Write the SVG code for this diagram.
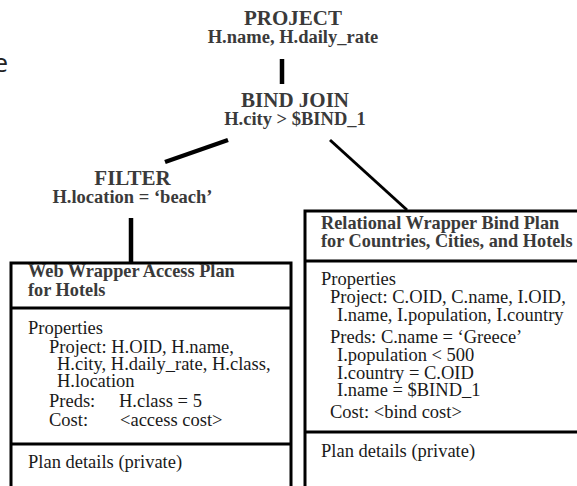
<svg xmlns="http://www.w3.org/2000/svg" width="577" height="486" viewBox="0 0 577 486">
<style>
.op{font-family:"Liberation Serif",serif;font-weight:bold;fill:#3a3a3a;text-anchor:middle}
.t1{font-size:21px}
.t2{font-size:18.5px}
.hd{font-family:"Liberation Serif",serif;font-weight:bold;font-size:18.3px;fill:#3a3a3a}
.tx{font-family:"Liberation Serif",serif;font-size:18.5px;fill:#1a1a1a}
.box{fill:none;stroke:#000;stroke-width:3}
.ln{stroke:#000;fill:none}
</style>
<rect width="577" height="486" fill="#fff"/>
<text x="8" y="72" font-family="'Open Sans',sans-serif" font-size="26" fill="#222" text-anchor="end">e</text>
<g id="connectors">
<line class="ln" x1="282" y1="59" x2="282" y2="84" stroke-width="4.5"/>
<line class="ln" x1="228" y1="140" x2="165" y2="162" stroke-width="4.5"/>
<line class="ln" x1="330" y1="140" x2="407" y2="210" stroke-width="3"/>
<line class="ln" x1="131" y1="218" x2="131" y2="262" stroke-width="4.5"/>
</g>
<g id="project">
<text class="op t1" x="293" y="25">PROJECT</text>
<text class="op t2" x="293" y="43">H.name, H.daily_rate</text>
</g>
<g id="bindjoin">
<text class="op t1" x="295" y="107">BIND JOIN</text>
<text class="op t2" x="295" y="125">H.city &gt; $BIND_1</text>
</g>
<g id="filter">
<text class="op t1" x="132.5" y="185">FILTER</text>
<text class="op t2" x="132.5" y="203">H.location = ‘beach’</text>
</g>
<g id="web-plan">
<rect class="box" x="11" y="263" width="280" height="240"/>
<line class="box" x1="11" y1="308" x2="291" y2="308"/>
<line class="box" x1="11" y1="444" x2="291" y2="444"/>
<text class="hd" x="28" y="277">Web Wrapper Access Plan</text>
<text class="hd" x="28" y="296">for Hotels</text>
<text class="tx" x="28" y="334">Properties</text>
<text class="tx" x="49" y="353">Project: H.OID, H.name,</text>
<text class="tx" x="57" y="370">H.city, H.daily_rate, H.class,</text>
<text class="tx" x="57" y="387">H.location</text>
<text class="tx" x="49" y="407">Preds:</text>
<text class="tx" x="119" y="407">H.class = 5</text>
<text class="tx" x="49" y="426">Cost:</text>
<text class="tx" x="120" y="426">&lt;access cost&gt;</text>
<text class="tx" x="28" y="468">Plan details (private)</text>
</g>
<g id="rel-plan">
<rect class="box" x="305" y="211" width="290" height="290"/>
<line class="box" x1="305" y1="261" x2="595" y2="261"/>
<line class="box" x1="305" y1="432" x2="595" y2="432"/>
<text class="hd" x="321" y="229">Relational Wrapper Bind Plan</text>
<text class="hd" x="321" y="247">for Countries, Cities, and Hotels</text>
<text class="tx" x="321" y="285">Properties</text>
<text class="tx" x="330" y="303">Project: C.OID, C.name, I.OID,</text>
<text class="tx" x="337" y="321">I.name, I.population, I.country</text>
<text class="tx" x="330" y="343">Preds: C.name = ‘Greece’</text>
<text class="tx" x="337" y="361">I.population &lt; 500</text>
<text class="tx" x="337" y="379">I.country = C.OID</text>
<text class="tx" x="337" y="396">I.name = $BIND_1</text>
<text class="tx" x="330" y="418">Cost: &lt;bind cost&gt;</text>
<text class="tx" x="321" y="457">Plan details (private)</text>
</g>
</svg>
